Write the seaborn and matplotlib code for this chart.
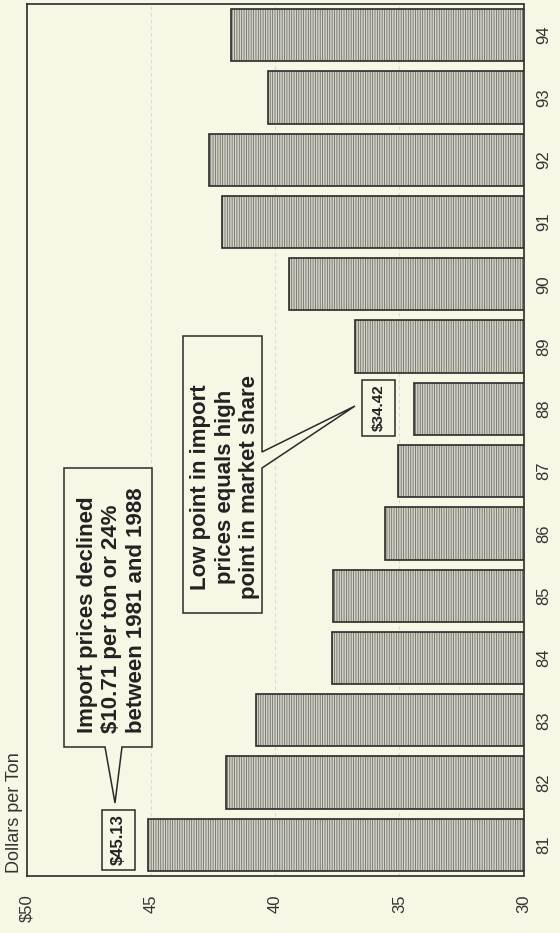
import matplotlib
matplotlib.use('Agg')
import matplotlib.pyplot as plt
import seaborn as sns
import pandas as pd
from matplotlib.patches import Polygon

# ---- data ----
years = ['81', '82', '83', '84', '85', '86', '87', '88', '89', '90', '91', '92', '93', '94']
prices = [45.13, 41.97, 40.77, 37.70, 37.69, 35.56, 35.04, 34.42, 36.80, 39.43, 42.14, 42.67, 40.29, 41.79]
value_ticks = [50, 45, 40, 35, 30]
value_tick_labels = ['$50', '45', '40', '35', '30']
axis_title = 'Dollars per Ton'
callout_1 = 'Import prices declined\n$10.71 per ton or 24%\nbetween 1981 and 1988'
callout_2 = 'Low point in import\nprices equals high\npoint in market share'
label_high = '$45.13'
label_low = '$34.42'

BG = '#f8f6e4'
INK = '#2a2a2a'

sns.set_style('white')
plt.rcParams['font.family'] = ['Liberation Sans', 'DejaVu Sans']
plt.rcParams['hatch.linewidth'] = 0.6

W, H = 560, 933
fig = plt.figure(figsize=(W / 100, H / 100), dpi=100, facecolor=BG)


def fx(px):
    return px / W


def fy(py):
    return 1 - py / H


ax = fig.add_axes([fx(27), fy(876), fx(523.5) - fx(27), fy(4) - fy(876)])
ax.set_facecolor(BG)

for v in [35, 40, 45]:
    ax.axvline(v, color='#d9d9cf', lw=0.8, ls=(0, (3, 3)), zorder=0)

df = pd.DataFrame({'year': years, 'price': prices})
order = years[::-1]
# hatched fill
sns.barplot(data=df, x='price', y='year', order=order, orient='h',
            color='#d4d4c6', saturation=1, width=0.84, edgecolor='#6e6e6a',
            linewidth=0, hatch='|||||||', ax=ax, zorder=2)
# outlines
sns.barplot(data=df, x='price', y='year', order=order, orient='h',
            color=INK, saturation=1, width=0.84, fill=False,
            linewidth=1.2, ax=ax, zorder=3)

ax.set_xlim(50, 30)
ax.set_ylim(len(years) - 0.5, -0.5)
ax.set_xticks(value_ticks)
ax.set_xticklabels(value_tick_labels, rotation=90, fontsize=12, color='#333333')
ax.tick_params(axis='x', length=0, pad=13)
ax.yaxis.tick_right()
ax.tick_params(axis='y', length=0, pad=9, labelsize=12, labelrotation=90, labelcolor='#333333')
for lab in ax.get_yticklabels():
    lab.set_va('center')
ax.set_xlabel('')
ax.set_ylabel('')
for s in ax.spines.values():
    s.set_visible(True)
    s.set_color(INK)
    s.set_linewidth(1.2)

# axis title
fig.text(fx(15), fy(873), axis_title, rotation=90, ha='center', va='bottom',
         fontsize=13, color='#333333')


def poly(points):
    p = Polygon([(fx(a), fy(b)) for a, b in points], closed=True, transform=fig.transFigure,
                facecolor=BG, edgecolor=INK, lw=1.1, zorder=5)
    fig.add_artist(p)


# callout 1
poly([(64, 468), (152, 468), (152, 747), (122, 747), (115, 803), (105, 747), (64, 747)])
fig.text(fx(112), fy(733), callout_1, rotation=90, ha='center', va='bottom',
         multialignment='left', fontsize=16, fontweight='bold', linespacing=1.25,
         color='#222222', zorder=6)

# callout 2
poly([(183, 336), (262, 336), (262, 452), (355, 406), (262, 468), (262, 613), (183, 613)])
fig.text(fx(225), fy(487), callout_2, rotation=90, ha='center', va='center',
         multialignment='center', fontsize=16, fontweight='bold', linespacing=1.2,
         color='#222222', zorder=6)

# value boxes
poly([(102, 810), (135, 810), (135, 870), (102, 870)])
fig.text(fx(118.5), fy(840), label_high, rotation=90, ha='center', va='center',
         fontsize=12, fontweight='bold', color='#222222', zorder=6)
poly([(362, 380), (395, 380), (395, 436), (362, 436)])
fig.text(fx(378.5), fy(408), label_low, rotation=90, ha='center', va='center',
         fontsize=11, fontweight='bold', color='#222222', zorder=6)

fig.savefig('out.png', dpi=100, facecolor=BG)
